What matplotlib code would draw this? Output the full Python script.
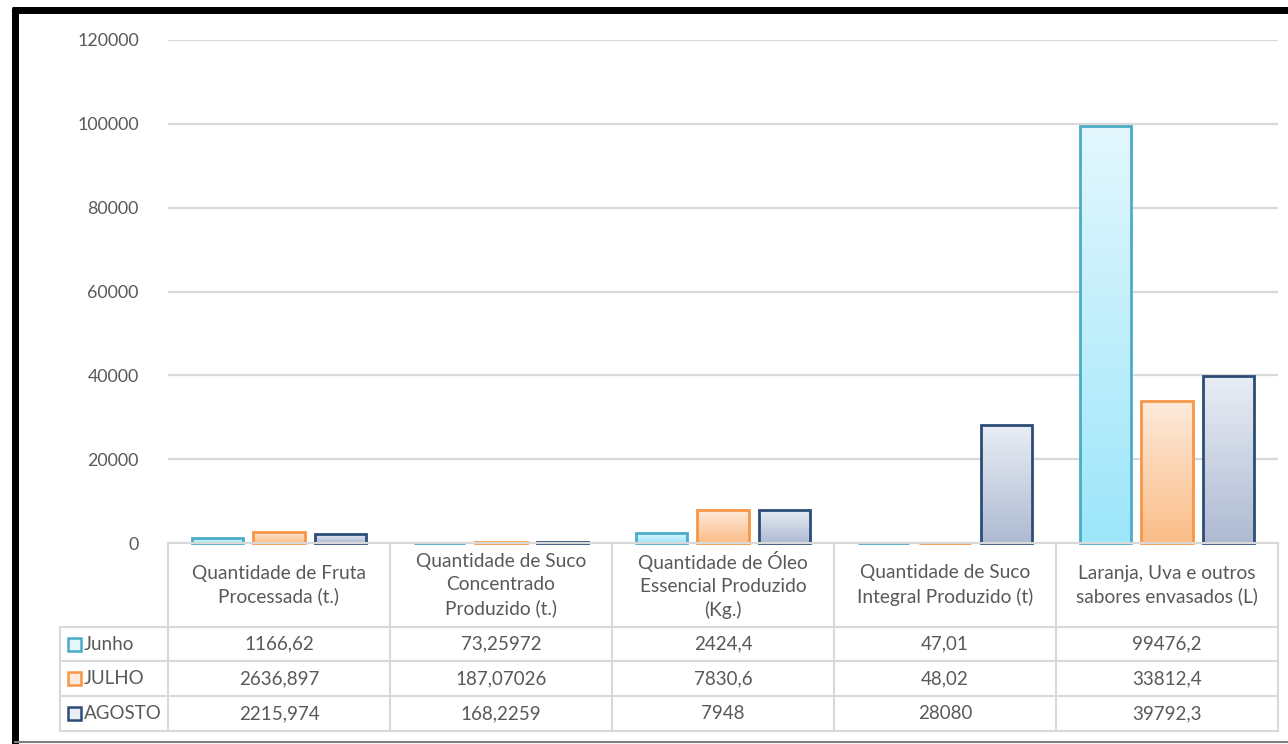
import numpy as np
import matplotlib.pyplot as plt
from matplotlib.lines import Line2D
from matplotlib.patches import Rectangle
from matplotlib.colors import LinearSegmentedColormap

# data
categories = [
    "Quantidade de Fruta\nProcessada (t.)",
    "Quantidade de Suco\nConcentrado\nProduzido (t.)",
    "Quantidade de Óleo\nEssencial Produzido\n(Kg.)",
    "Quantidade de Suco\nIntegral Produzido (t)",
    "Laranja, Uva e outros\nsabores envasados (L)",
]
series_names = ["Junho", "JULHO", "AGOSTO"]
junho = [1166.62, 73.25972, 2424.4, 47.01, 99476.2]
julho = [2636.897, 187.07026, 7830.6, 48.02, 33812.4]
agosto = [2215.974, 168.2259, 7948, 28080, 39792.3]

edge_colors = ["#4bacc6", "#f79646", "#2c4d75"]
grad_top = ["#e3f7fd", "#fdeadb", "#e9edf4"]
grad_bot = ["#9de6fa", "#fbbd87", "#aebad3"]

W, H = 1288, 744
plt.rcParams['font.family'] = ['Lato', 'DejaVu Sans']
text_color = "#595959"
grid_color = "#d9d9d9"


def fmt(v):
    s = repr(float(v))
    if s.endswith(".0"):
        s = s[:-2]
    return s.replace(".", ",")


def px(x, y):
    return x / W, 1 - y / H


fig = plt.figure(figsize=(W / 100, H / 100), dpi=100)
fig.patch.set_facecolor("white")

x0, x1, ytop, ybase = 168, 1278, 40, 543
ax = fig.add_axes([x0 / W, 1 - ybase / H, (x1 - x0) / W, (ybase - ytop) / H])
ax.set_xlim(-0.5, len(categories) - 0.5)
ax.set_ylim(0, 120000)
ax.set_yticks(np.arange(0, 120001, 20000))
ax.set_xticks([])
ax.tick_params(axis="y", length=0, pad=21, labelsize=12.8, labelcolor=text_color)
for s in ax.spines.values():
    s.set_visible(False)
ax.yaxis.grid(True, color=grid_color, lw=1.6)
ax.set_axisbelow(True)

x = np.arange(len(categories))
offsets = [-0.275, 0, 0.275]
width = 0.23
grad = np.linspace(0, 1, 256).reshape(-1, 1)
for i, vals in enumerate([junho, julho, agosto]):
    cmap = LinearSegmentedColormap.from_list("g%d" % i, [grad_bot[i], grad_top[i]])
    bars = ax.bar(x + offsets[i], vals, width, facecolor="none",
                  edgecolor=edge_colors[i], lw=2, zorder=3, clip_on=False)
    for b in bars:
        bx, by = b.get_x(), b.get_y()
        bw, bh = b.get_width(), b.get_height()
        im = ax.imshow(grad, cmap=cmap, origin="lower", aspect="auto",
                       extent=[bx, bx + bw, 0, max(bh, 1)], zorder=2)
        im.set_clip_path(b)
ax.set_xlim(-0.5, len(categories) - 0.5)
ax.set_ylim(0, 120000)

# data table under the chart
col_edges = [168, 390, 612, 834, 1056, 1278]
row_edges = [543, 627, 661, 696, 731]
lab_left = 60


def hline(xa, xb, y, **kw):
    fig.add_artist(Line2D([xa / W, xb / W], [1 - y / H, 1 - y / H], **kw))


def vline(xx, ya, yb, **kw):
    fig.add_artist(Line2D([xx / W, xx / W], [1 - ya / H, 1 - yb / H], **kw))


lk = dict(color=grid_color, lw=1.5)
hline(col_edges[0], col_edges[-1], row_edges[0], **lk)
for y in row_edges[1:]:
    hline(lab_left, col_edges[-1], y, **lk)
vline(lab_left, row_edges[1], row_edges[-1], **lk)
for xx in col_edges:
    vline(xx, row_edges[0], row_edges[-1], **lk)

for j, cat in enumerate(categories):
    cx = (col_edges[j] + col_edges[j + 1]) / 2
    cy = (row_edges[0] + row_edges[1]) / 2
    fig.text(*px(cx, cy), cat, ha="center", va="center", fontsize=13.8,
             color=text_color, linespacing=1.4)

for r, vals in enumerate([junho, julho, agosto]):
    cy = (row_edges[r + 1] + row_edges[r + 2]) / 2
    fig.add_artist(Rectangle(px(68, cy + 6.5), 13 / W, 13 / H,
                             facecolor=grad_top[r], edgecolor=edge_colors[r],
                             lw=1.8, transform=fig.transFigure))
    fig.text(*px(84, cy), series_names[r], ha="left", va="center",
             fontsize=13.5, color=text_color)
    for j, v in enumerate(vals):
        cx = (col_edges[j] + col_edges[j + 1]) / 2
        fig.text(*px(cx, cy), fmt(v), ha="center", va="center",
                 fontsize=13.5, color=text_color)

# frame around the picture
hline(12, 1288, 10, color="black", lw=5, solid_capstyle="butt")
vline(15, 8, 744, color="black", lw=5, solid_capstyle="butt")
hline(15, 1288, 742, color="#7f7f7f", lw=1.5)

fig.savefig("out.png", dpi=100, facecolor=fig.get_facecolor())
